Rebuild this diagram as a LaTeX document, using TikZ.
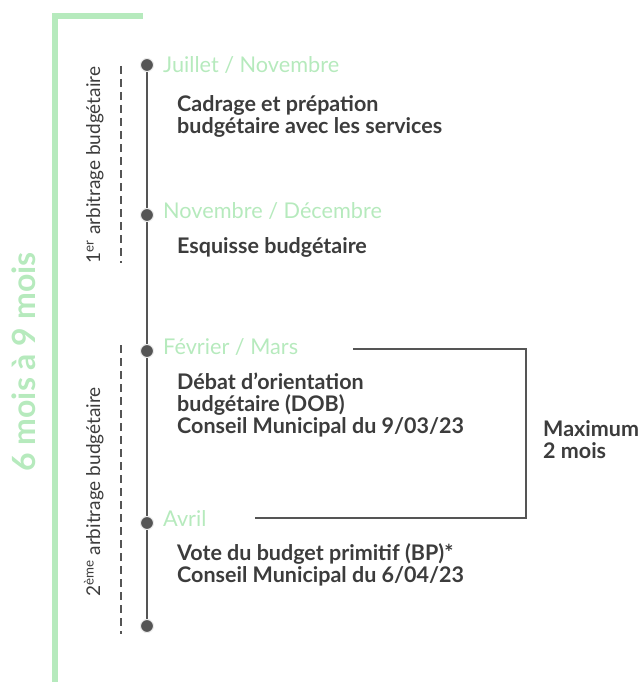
\documentclass[tikz,border=0pt]{standalone}
\usepackage{fontspec}
\setmainfont{Lato}
\definecolor{lgreen}{HTML}{B6EABD}
\definecolor{dgray}{HTML}{3C3C3C}
\definecolor{lgray}{HTML}{555555}
\begin{document}
\begin{tikzpicture}[x=1pt,y=-1pt,
  greenline/.style={draw=lgreen,line width=6pt},
  tline/.style={draw=lgray,line width=2.8pt},
  dashline/.style={draw=lgray,line width=2.6pt,dash pattern=on 8pt off 5pt},
  dot/.style={circle,fill=lgray,draw=white!92!black,line width=1pt,inner sep=0pt,minimum size=13pt},
  month/.style={anchor=base west,text=lgreen,font=\fontsize{21.7}{22}\selectfont,inner sep=0pt},
  desc/.style={anchor=base west,text=dgray,font=\fontsize{21.5}{22}\selectfont\bfseries,align=left,inner sep=0pt},
  vlabel/.style={rotate=90,anchor=base,text=dgray,font=\fontsize{19}{20}\selectfont,inner sep=0pt},
  brack/.style={draw=lgray,line width=2.5pt}
]
\useasboundingbox (0,0) rectangle (644,682);
% green bracket
\coordinate (g1) at (143,16);
\coordinate (g2) at (55,16);
\coordinate (g3) at (55,682);
\draw[greenline] (g1) -- (g2) -- (g3);
\node[rotate=90,anchor=base,text=lgreen,font=\fontsize{32}{34}\selectfont\bfseries,inner sep=0pt] (big) at (35,362) {6 mois à 9 mois};
% dashed lines
\coordinate (d1a) at (121,66);
\coordinate (d1b) at (121,263);
\coordinate (d2a) at (121,345);
\coordinate (d2b) at (121,634);
\draw[dashline] (d1a) -- (d1b);
\draw[dashline] (d2a) -- (d2b);
\node[vlabel] (l1) at (100,165) {1\textsuperscript{er} arbitrage budgétaire};
\node[vlabel] (l2) at (100,492) {2\textsuperscript{ème} arbitrage budgétaire};
% timeline
\coordinate (p1) at (147,65);
\coordinate (p2) at (147,215);
\coordinate (p3) at (147,351);
\coordinate (p4) at (147,523);
\coordinate (p5) at (147,626);
\draw[tline] (p1) -- (p5);
\foreach \p in {p1,p2,p3,p4,p5} \node[dot] at (\p) {};
% months
\node[month] (m1) at (163,73) {Juillet / Novembre};
\node[month] (m2) at (163,218) {Novembre / Décembre};
\node[month] (m3) at (163,354) {Février / Mars};
\node[month] (m4) at (163,526) {Avril};
% descriptions (anchor = baseline of last line)
\node[desc] (t1) at (177,133) {Cadrage et prépation\\budgétaire avec les services};
\node[desc] (t2) at (177,253) {Esquisse budgétaire};
\node[desc] (t3) at (177,433) {Débat d’orientation\\budgétaire (DOB)\\Conseil Municipal du 9/03/23};
\node[desc] (t4) at (177,582) {Vote du budget primitif (BP)*\\Conseil Municipal du 6/04/23};
% bracket
\coordinate (b1) at (353,349);
\coordinate (b2) at (526,349);
\coordinate (b3) at (526,518);
\coordinate (b4) at (255,518);
\draw[brack] (b1) -- (b2) -- (b3) -- (b4);
\node[desc] (mx) at (543,458) {Maximum\\2 mois};
\end{tikzpicture}
\end{document}
